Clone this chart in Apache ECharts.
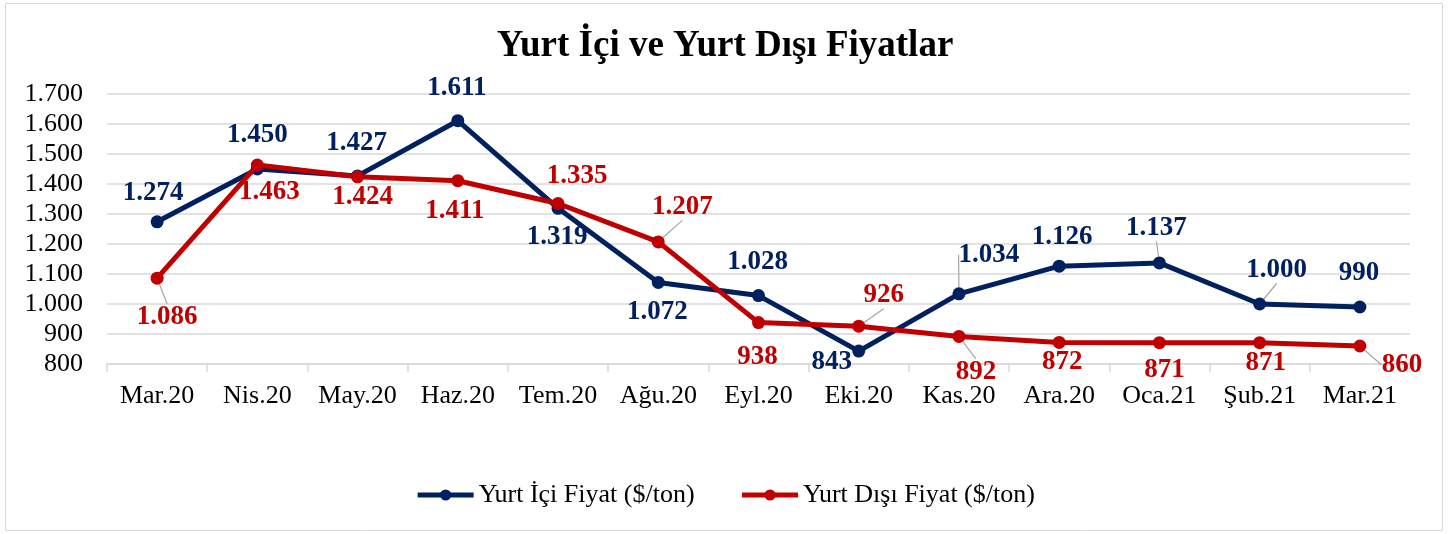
<!DOCTYPE html>
<html>
<head>
<meta charset="utf-8">
<script src="https://cdn.jsdelivr.net/npm/echarts@6/dist/echarts.min.js"></script>
<style>
  html, body { margin: 0; padding: 0; background: #fff; }
  #main { width: 1450px; height: 534px; }
</style>
</head>
<body>
<div id="main"></div>
<script>
// aylar
var months = ['Mar.20', 'Nis.20', 'May.20', 'Haz.20', 'Tem.20', 'Ağu.20', 'Eyl.20', 'Eki.20', 'Kas.20', 'Ara.20', 'Oca.21', 'Şub.21', 'Mar.21'];
var yurtIci = [1274, 1450, 1427, 1611, 1319, 1072, 1028, 843, 1034, 1126, 1137, 1000, 990];
var yurtDisi = [1086, 1463, 1424, 1411, 1335, 1207, 938, 926, 892, 872, 871, 871, 860];
var yTicks = [800, 900, 1000, 1100, 1200, 1300, 1400, 1500, 1600, 1700];

// etiket kaydirmalari (nokta merkezine gore)
var iciOffsets = [[-4, -29], [0, -34], [-1, -33], [-1, -33], [-1, 29], [-1, 30], [-1, -34], [-27, 11], [30, -39], [3, -29], [-3, -35], [17, -34], [-1, -34]];
var disiOffsets = [[10, 39], [12, 27], [5, 20], [-3, 30], [19, -27], [24, -35], [-1, 34], [25, -31], [17, 36], [3, 20], [5, 27], [6, 20], [42, 19]];
var iciLines = [8, 10, 11];
var disiLines = [0, 5, 7, 8, 12];

var font = '"Liberation Serif", "Times New Roman", serif';

function trFmt(v) {
  v = Math.round(v);
  if (v >= 1000) {
    var r = v % 1000;
    return Math.floor(v / 1000) + '.' + (r < 10 ? '00' : r < 100 ? '0' : '') + r;
  }
  return '' + v;
}

function buildData(vals, lines) {
  return vals.map(function (v, i) {
    return { value: v, labelLine: { show: lines.indexOf(i) >= 0 } };
  });
}

var myChart = echarts.init(document.getElementById('main'));

var chartopt = {
  animation: false,
  backgroundColor: '#fff',
  title: {
    text: 'Yurt İçi ve Yurt Dışı Fiyatlar',
    left: 'center',
    top: 23,
    textStyle: { fontFamily: font, fontSize: 37, fontWeight: 'bold', color: '#000' }
  },
  legend: {
    bottom: 21,
    left: 'center',
    itemWidth: 56,
    itemHeight: 14,
    itemGap: 45,
    lineStyle: { width: 5 },
    textStyle: { fontFamily: font, fontSize: 26, color: '#000' },
    data: ['Yurt İçi Fiyat ($/ton)', 'Yurt Dışı Fiyat ($/ton)']
  },
  graphic: [{
    type: 'rect',
    shape: { x: 5.5, y: 3.5, width: 1437, height: 527 },
    style: { fill: 'none', stroke: '#d9d9d9', lineWidth: 1 },
    silent: true
  }],
  grid: { left: 107, right: 40, top: 94, bottom: 170 },
  xAxis: {
    type: 'category',
    data: months,
    axisLine: { lineStyle: { color: '#d9d9d9', width: 1.5 } },
    axisTick: { show: true, length: 8, lineStyle: { color: '#d9d9d9', width: 1.5 } },
    axisLabel: { interval: 0, fontFamily: font, fontSize: 26, color: '#000', margin: 19 }
  },
  yAxis: {
    type: 'value',
    min: yTicks[0],
    max: yTicks[yTicks.length - 1],
    interval: 100,
    axisLine: { show: false },
    axisTick: { show: false },
    splitLine: { lineStyle: { color: '#d9d9d9', width: 1.5 } },
    axisLabel: { fontFamily: font, fontSize: 26, color: '#000', margin: 24, formatter: trFmt }
  },
  series: [
    {
      name: 'Yurt İçi Fiyat ($/ton)',
      type: 'line',
      data: buildData(yurtIci, iciLines),
      color: '#002060',
      lineStyle: { width: 5, color: '#002060' },
      symbol: 'circle',
      symbolSize: 13,
      z: 3,
      label: {
        show: true,
        position: 'inside',
        fontFamily: font,
        fontSize: 27,
        fontWeight: 'bold',
        color: '#002060',
        formatter: function (p) { return trFmt(p.value); }
      },
      labelLine: { lineStyle: { color: '#a6a6a6', width: 1.2 } },
      labelLayout: function (p) {
        var o = iciOffsets[p.dataIndex];
        return { dx: o[0], dy: o[1] };
      }
    },
    {
      name: 'Yurt Dışı Fiyat ($/ton)',
      type: 'line',
      data: buildData(yurtDisi, disiLines),
      color: '#c00000',
      lineStyle: { width: 5, color: '#c00000' },
      symbol: 'circle',
      symbolSize: 13,
      z: 4,
      label: {
        show: true,
        position: 'inside',
        fontFamily: font,
        fontSize: 27,
        fontWeight: 'bold',
        color: '#c00000',
        formatter: function (p) { return trFmt(p.value); }
      },
      labelLine: { lineStyle: { color: '#a6a6a6', width: 1.2 } },
      labelLayout: function (p) {
        var o = disiOffsets[p.dataIndex];
        return { dx: o[0], dy: o[1] };
      }
    }
  ]
};

myChart.setOption(chartopt);
</script>
</body>
</html>
